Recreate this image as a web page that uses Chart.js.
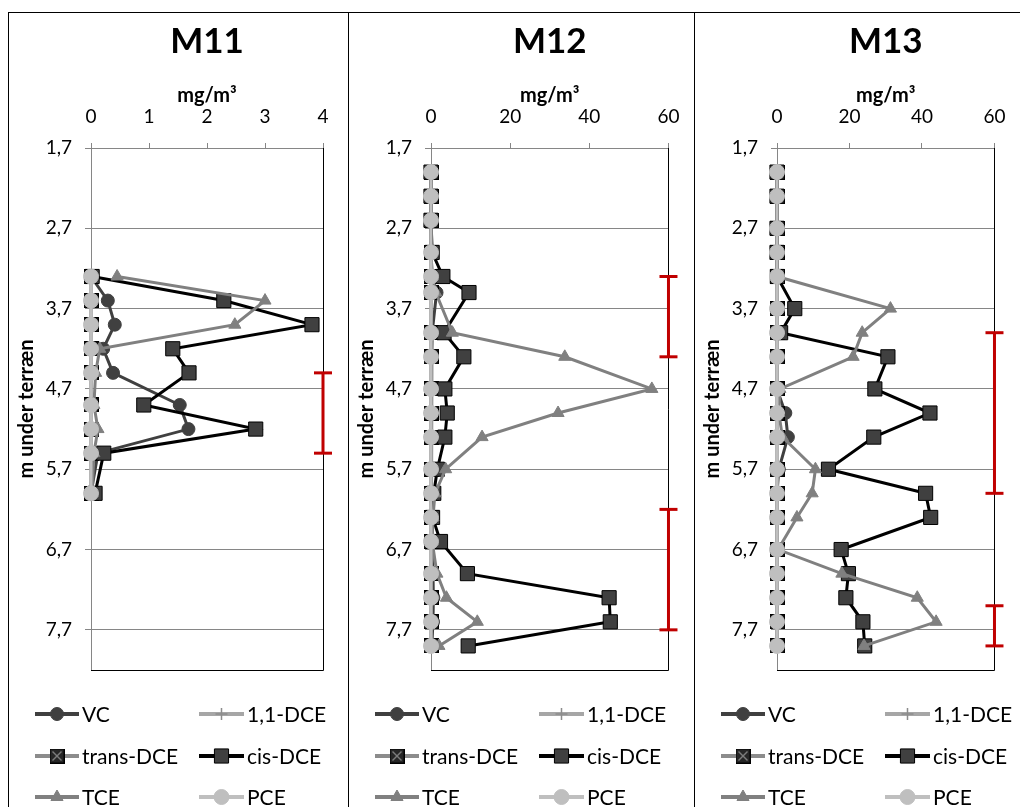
<!DOCTYPE html>
<html><head><meta charset="utf-8">
<script src="https://cdn.jsdelivr.net/npm/chart.js@4/dist/chart.umd.min.js"></script>
<style>
html,body{margin:0;padding:0;background:#fff;}
body{width:1020px;height:807px;position:relative;overflow:hidden;font-family:Lato,sans-serif;}
.panel{position:absolute;top:12px;height:795px;}
.vline{position:absolute;top:12px;height:795px;width:1px;background:#000;}
.hline{position:absolute;top:12px;left:8px;width:1012px;height:1px;background:#000;}
</style></head><body>
<div class="panel" style="left:8px;width:340px"><canvas id="c1" width="340" height="795"></canvas></div>
<div class="panel" style="left:348px;width:346px"><canvas id="c2" width="346" height="795"></canvas></div>
<div class="panel" style="left:694px;width:326px"><canvas id="c3" width="326" height="795"></canvas></div>
<div class="hline"></div>
<div class="vline" style="left:8px"></div>
<div class="vline" style="left:348px"></div>
<div class="vline" style="left:694px"></div>
<script>
// ---------- DATA ----------
const seriesNames = ['VC', '1,1-DCE', 'trans-DCE', 'cis-DCE', 'TCE', 'PCE'];
const yTicks = [1.7, 2.7, 3.7, 4.7, 5.7, 6.7, 7.7];
const yTickLabels = ['1,7', '2,7', '3,7', '4,7', '5,7', '6,7', '7,7'];
const xTicksM11 = [0, 1, 2, 3, 4];
const xTicksM1213 = [0, 20, 40, 60];

// M11
const depthM11 = [3.3, 3.6, 3.9, 4.2, 4.5, 4.9, 5.2, 5.5, 6.0];
const vcM11    = [0, 0.29, 0.41, 0.21, 0.38, 1.53, 1.68, 0.12, 0];
const dce11M11 = [0, 0, 0, 0, 0, 0, 0, 0, 0];
const transM11 = [0, 0, 0, 0, 0, 0, 0, 0, 0];
const cisM11   = [0.02, 2.29, 3.81, 1.41, 1.69, 0.91, 2.84, 0.22, 0.07];
const tceM11   = [0.45, 3.0, 2.48, 0.15, 0.08, 0.05, 0.12, 0.05, 0.02];
const pceM11   = [0, 0, 0, 0, 0, 0, 0, 0, 0];
const barsM11  = [[4.5, 5.5]];

// M12
const depthM12 = [2.0, 2.3, 2.6, 3.0, 3.3, 3.5, 4.0, 4.3, 4.7, 5.0, 5.3, 5.7, 6.0, 6.3, 6.6, 7.0, 7.3, 7.6, 7.9];
const vcM12    = [0, 0, 0, 0, 0.3, 1.4, 0.3, 0.2, 0.2, 0.2, 0.2, 0.1, 0, 0, 0.1, 0.5, 0.6, 0.5, 0.2];
const dce11M12 = [0, 0, 0, 0, 0, 0, 0, 0, 0, 0, 0, 0, 0, 0, 0, 0, 0, 0, 0];
const transM12 = [0, 0, 0, 0, 0, 0, 0, 0, 0, 0, 0, 0, 0, 0, 0, 0, 0, 0, 0];
const cisM12   = [0, 0, 0, 0.3, 3.0, 9.6, 3.3, 8.3, 3.5, 4.1, 3.5, 1.6, 0.7, 0.4, 2.4, 9.2, 45.0, 45.3, 9.4];
const tceM12   = [0, 0, 0, 0, 0.3, 1.2, 5.4, 33.8, 55.8, 32.1, 12.9, 3.7, 1.0, 0.5, 0.3, 1.5, 3.9, 11.7, 2.0];
const pceM12   = [0, 0, 0, 0, 0, 0, 0, 0, 0, 0, 0, 0, 0, 0, 0, 0, 0, 0, 0];
const barsM12  = [[3.3, 4.3], [6.2, 7.7]];

// M13
const depthM13 = [2.0, 2.3, 2.7, 3.0, 3.3, 3.7, 4.0, 4.3, 4.7, 5.0, 5.3, 5.7, 6.0, 6.3, 6.7, 7.0, 7.3, 7.6, 7.9];
const vcM13    = [0, 0, 0, 0, 0, 0, 0, 0, 0, 2.3, 3.0, 0.5, 0, 0, 0, 0, 0, 0, 0];
const dce11M13 = [0, 0, 0, 0, 0, 0, 0, 0, 0, 0, 0, 0, 0, 0, 0, 0, 0, 0, 0];
const transM13 = [0, 0, 0, 0, 0, 0, 0, 0, 0, 0, 0, 0, 0, 0, 0, 0, 0, 0, 0];
const cisM13   = [0, 0, 0, 0, 0.1, 4.9, 1.0, 30.6, 27.0, 42.2, 26.7, 14.2, 41.0, 42.4, 17.7, 19.7, 19.0, 23.7, 24.2];
const tceM13   = [0, 0, 0, 0, 0, 31.3, 23.5, 21.0, 0.8, 0.5, 1.5, 10.6, 9.7, 5.5, 0.3, 17.9, 38.7, 43.9, 24.0];
const pceM13   = [0, 0, 0, 0, 0, 0, 0, 0, 0, 0, 0, 0, 0, 0, 0, 0, 0, 0, 0];
const barsM13  = [[4.0, 6.0], [7.4, 7.9]];

// ---------- STYLE ----------
const FONT = 'Lato, "DejaVu Sans", sans-serif';
Chart.defaults.font.family = FONT;

function makeTransImg() {
  const c = document.createElement('canvas');
  c.width = 15; c.height = 15;
  const g = c.getContext('2d');
  g.fillStyle = '#262626'; g.fillRect(0, 0, 15, 15);
  g.strokeStyle = '#d0d0d0'; g.lineWidth = 1;
  g.beginPath(); g.moveTo(3, 3); g.lineTo(12, 12); g.moveTo(12, 3); g.lineTo(3, 12); g.stroke();
  g.strokeStyle = '#000'; g.strokeRect(0.5, 0.5, 14, 14);
  return c;
}
const transImg = makeTransImg();

const styles = [
  {line: '#404040', ps: 'circle',   r: 6.5, fill: '#404040', stroke: '#404040', bw: 1,   order: 6},
  {line: '#a6a6a6', ps: 'cross',    r: 6,   fill: '#a6a6a6', stroke: '#8c8c8c', bw: 1.5, order: 5},
  {line: '#8c8c8c', ps: transImg,   r: 7,   fill: '#262626', stroke: '#000',    bw: 1,   order: 4},
  {line: '#000000', ps: 'rect',     r: 10,  fill: '#404040', stroke: '#000000', bw: 1,   order: 3},
  {line: '#808080', ps: 'triangle', r: 7,   fill: '#808080', stroke: '#808080', bw: 1,   order: 2},
  {line: '#bfbfbf', ps: 'circle',   r: 7.5, fill: '#bfbfbf', stroke: '#bfbfbf', bw: 1,   order: 1},
];

function drawMarker(ctx, st, x, y) {
  ctx.save();
  if (typeof st.ps !== 'string') {
    ctx.drawImage(st.ps, x - st.ps.width / 2, y - st.ps.height / 2);
    ctx.restore(); return;
  }
  ctx.fillStyle = st.fill; ctx.strokeStyle = st.stroke; ctx.lineWidth = st.bw;
  ctx.beginPath();
  const r = st.r;
  if (st.ps === 'circle') { ctx.arc(x, y, r, 0, Math.PI * 2); ctx.fill(); ctx.stroke(); }
  else if (st.ps === 'rect') { const s = r * Math.SQRT1_2; ctx.rect(x - s, y - s, 2 * s, 2 * s); ctx.fill(); ctx.stroke(); }
  else if (st.ps === 'triangle') {
    ctx.moveTo(x, y - r); ctx.lineTo(x + r * 0.866, y + r * 0.5); ctx.lineTo(x - r * 0.866, y + r * 0.5); ctx.closePath();
    ctx.fill(); ctx.stroke();
  } else if (st.ps === 'cross') {
    ctx.moveTo(x, y - r); ctx.lineTo(x, y + r); ctx.moveTo(x - r, y); ctx.lineTo(x + r, y); ctx.stroke();
  }
  ctx.restore();
}

const framePlugin = {
  id: 'frame',
  beforeDatasetsDraw(chart) {
    const {ctx, chartArea: a} = chart;
    ctx.save();
    ctx.strokeStyle = '#000'; ctx.lineWidth = 1;
    ctx.beginPath();
    ctx.moveTo(Math.round(a.right) + 0.5, a.top);
    ctx.lineTo(Math.round(a.right) + 0.5, Math.round(a.bottom) + 0.5);
    ctx.lineTo(a.left, Math.round(a.bottom) + 0.5);
    ctx.stroke();
    ctx.restore();
  }
};

const legendPlugin = {
  id: 'excelLegend',
  afterDraw(chart) {
    const ctx = chart.ctx;
    const rows = [702, 744, 785];
    const cols = [{x1: 27, x2: 71, tx: 74}, {x1: 191, x2: 236, tx: 239}];
    seriesNames.forEach((name, i) => {
      const st = styles[i];
      const c = cols[i % 2], y = rows[Math.floor(i / 2)];
      ctx.save();
      ctx.strokeStyle = st.line; ctx.lineWidth = 4;
      ctx.beginPath(); ctx.moveTo(c.x1, y); ctx.lineTo(c.x2, y); ctx.stroke();
      drawMarker(ctx, st, (c.x1 + c.x2) / 2, y);
      ctx.fillStyle = '#000'; ctx.font = '21px ' + FONT;
      ctx.textBaseline = 'middle'; ctx.textAlign = 'left';
      ctx.fillText(name, c.tx, y + 1);
      ctx.restore();
    });
  }
};

function buildChart(id, title, depths, seriesVals, bars, xTicks, padRight) {
  const xmax = xTicks[xTicks.length - 1];
  const datasets = seriesVals.map((vals, i) => {
    const st = styles[i];
    return {
      label: seriesNames[i],
      data: depths.map((d, k) => ({x: vals[k], y: d})),
      showLine: true,
      borderColor: st.line,
      borderWidth: 3,
      pointStyle: st.ps,
      pointRadius: st.r,
      pointBackgroundColor: st.fill,
      pointBorderColor: st.stroke,
      pointBorderWidth: st.bw,
      order: st.order,
      clip: false,
      tension: 0
    };
  });
  bars.forEach(b => {
    datasets.push({
      label: 'interval',
      data: [{x: xmax, y: b[0]}, {x: xmax, y: b[1]}],
      showLine: true,
      borderColor: '#c00000',
      borderWidth: 3,
      pointStyle: 'line',
      pointRadius: 9,
      pointBorderColor: '#c00000',
      pointBorderWidth: 3,
      order: 0,
      clip: false
    });
  });
  return new Chart(document.getElementById(id), {
    type: 'scatter',
    data: {datasets},
    plugins: [framePlugin, legendPlugin],
    options: {
      responsive: false,
      animation: false,
      events: [],
      layout: {padding: {left: 0, right: padRight, top: 0, bottom: 137}},
      plugins: {
        legend: {display: false},
        tooltip: {enabled: false},
        title: {
          display: true, text: title, fullSize: false, color: '#000',
          font: {family: FONT, size: 35, weight: 'bold', lineHeight: 1.2},
          padding: {top: 9, bottom: 0}
        }
      },
      scales: {
        x: {
          type: 'linear', position: 'top', min: 0, max: xmax,
          afterBuildTicks(s) { s.ticks = xTicks.map(v => ({value: v})); },
          ticks: {color: '#000', font: {family: FONT, size: 19}, padding: 14.5, maxRotation: 0, autoSkip: false},
          grid: {drawOnChartArea: false, drawTicks: true, tickLength: 5, color: '#868686'},
          border: {color: '#868686', width: 1},
          title: {display: true, text: 'mg/m³', color: '#000',
                  font: {family: FONT, size: 20, weight: 'bold', lineHeight: 1.2},
                  padding: {top: 20.5, bottom: 0}},
          afterFit(s) { s.height = 136 - 51; }
        },
        y: {
          type: 'linear', reverse: true, min: 1.7, max: 8.2,
          afterBuildTicks(s) { s.ticks = yTicks.map(v => ({value: v})); },
          ticks: {callback: (v, i) => yTickLabels[i], color: '#000', font: {family: FONT, size: 19}, padding: 13, autoSkip: false},
          grid: {color: '#868686', tickLength: 6, lineWidth: 1},
          border: {color: '#868686', width: 1},
          title: {display: true, text: 'm under terræn', color: '#000',
                  font: {family: FONT, size: 20, weight: 'bold', lineHeight: 1.2},
                  padding: {top: 7, bottom: 0}},
          afterFit(s) { s.width = 83; }
        }
      }
    }
  });
}

buildChart('c1', 'M11', depthM11, [vcM11, dce11M11, transM11, cisM11, tceM11, pceM11], barsM11, xTicksM11, 25);
buildChart('c2', 'M12', depthM12, [vcM12, dce11M12, transM12, cisM12, tceM12, pceM12], barsM12, xTicksM1213, 24);
buildChart('c3', 'M13', depthM13, [vcM13, dce11M13, transM13, cisM13, tceM13, pceM13], barsM13, xTicksM1213, 13);
</script>
</body></html>
